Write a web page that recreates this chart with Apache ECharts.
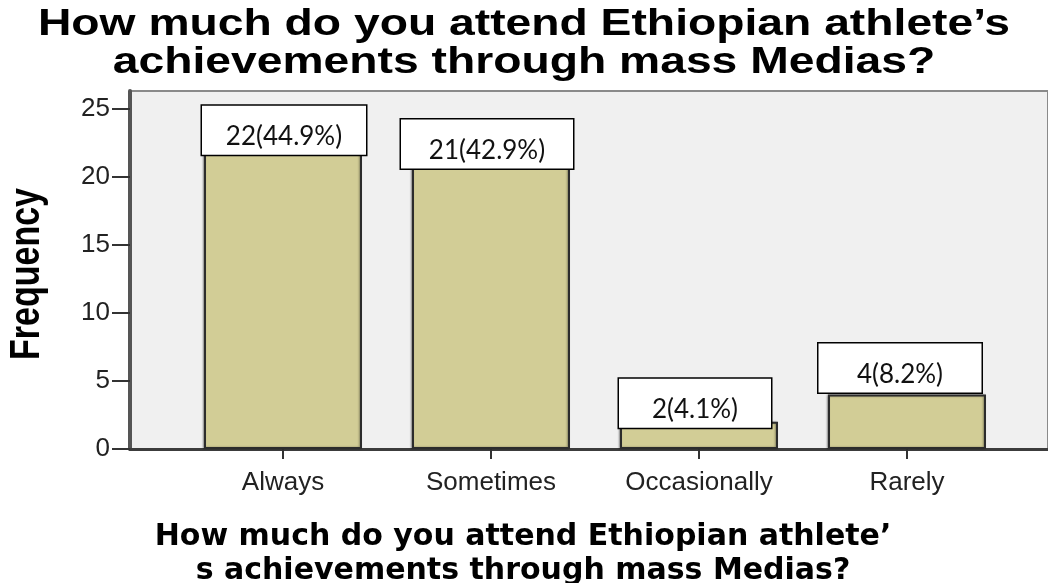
<!DOCTYPE html>
<html>
<head>
<meta charset="utf-8">
<script src="https://cdn.jsdelivr.net/npm/echarts@6/dist/echarts.min.js"></script>
<style>
  html, body { margin: 0; padding: 0; background: #fff; }
  #chart { width: 1048px; height: 583px; }
</style>
</head>
<body>
<div id="chart"></div>
<script>
// Survey answers and their counts
const categories = ['Always', 'Sometimes', 'Occasionally', 'Rarely'];
const frequencies = [22, 21, 2, 4];
const percents = [44.9, 42.9, 4.1, 8.2];
const yTicks = [0, 5, 10, 15, 20, 25];

const titleLines = ['How much do you attend Ethiopian athlete\u2019s', 'achievements through mass Medias?'];
const xTitleLines = ['How much do you attend Ethiopian athlete\u2019', 's achievements through mass Medias?'];
const yTitle = 'Frequency';

// Callout box placement for each bar's value label
const calloutStyle = [
  { dx: 1,  boxW: 164, dist: -5 },
  { dx: -4, boxW: 172, dist: -5 },
  { dx: -4, boxW: 152, dist: -6 },
  { dx: -7, boxW: 163, dist: 2 }
];

const chart = echarts.init(document.getElementById('chart'), null, { renderer: 'canvas' });

const barData = frequencies.map((v, i) => ({
  value: v,
  label: {
    show: true,
    position: 'top',
    distance: calloutStyle[i].dist,
    offset: [calloutStyle[i].dx, 0],
    formatter: v + '(' + percents[i].toFixed(1) + '%)',
    width: calloutStyle[i].boxW - 4,
    padding: [17, 2, 4, 2],
    lineHeight: 28,
    fontFamily: 'Lato',
    fontSize: 26,
    color: '#111',
    backgroundColor: '#ffffff',
    borderColor: '#000',
    borderWidth: 1.5
  }
}));

const option = {
  backgroundColor: '#ffffff',
  animation: false,
  grid: [
    { left: 130, top: 91, right: -20, bottom: 134, show: true,
      backgroundColor: '#f0f0f0', borderColor: '#8a8a8a', borderWidth: 2 },
    { left: 179, top: 109, right: 37, bottom: 134 }
  ],
  xAxis: [
    { gridIndex: 0, type: 'value', min: 0, max: 1,
      axisLine: { show: true, lineStyle: { color: '#3c3c3c', width: 3 } },
      axisTick: { show: false }, axisLabel: { show: false }, splitLine: { show: false } },
    { gridIndex: 1, type: 'category', data: categories,
      axisLine: { show: false },
      axisTick: { show: true, alignWithLabel: true, length: 10, lineStyle: { color: '#333', width: 2 } },
      axisLabel: { fontFamily: 'Liberation Sans', fontSize: 26, color: '#222', margin: 21 },
      splitLine: { show: false } }
  ],
  yAxis: [
    { gridIndex: 0, type: 'value', min: 0, max: 1,
      axisLine: { show: true, lineStyle: { color: '#555', width: 4 } },
      axisTick: { show: false }, axisLabel: { show: false }, splitLine: { show: false } },
    { gridIndex: 1, type: 'value', min: yTicks[0], max: yTicks[yTicks.length - 1], interval: 5,
      offset: 49,
      axisLine: { show: false },
      axisTick: { show: true, length: 18, lineStyle: { color: '#333', width: 2 } },
      axisLabel: { fontFamily: 'Liberation Sans', fontSize: 26, color: '#222', margin: 20 },
      splitLine: { show: false } }
  ],
  series: [
    {
      type: 'bar',
      xAxisIndex: 1,
      yAxisIndex: 1,
      barWidth: 158,
      data: barData,
      itemStyle: {
        color: '#d2cd96',
        borderColor: '#2c2c2c',
        borderWidth: 2,
        shadowColor: 'rgba(0,0,0,0.35)',
        shadowBlur: 2,
        shadowOffsetX: -1
      }
    }
  ],
  graphic: [
    { type: 'text', left: 'center', top: 6, scaleX: 1.25, originX: 0, z: 10,
      style: { text: titleLines.join('\n'), font: 'bold 37px "Liberation Sans"', fill: '#000',
               textAlign: 'center', lineHeight: 38 } },
    { type: 'text', x: 27, y: 274, rotation: Math.PI / 2, scaleY: 1.25, z: 10,
      style: { text: yTitle, font: 'bold 34px "Liberation Sans"', fill: '#000',
               textAlign: 'center', textVerticalAlign: 'middle' } },
    { type: 'text', x: 523, y: 520, z: 10,
      style: { text: xTitleLines.join('\n'), font: 'bold 30px "DejaVu Sans"', fill: '#000',
               textAlign: 'center', lineHeight: 34 } }
  ]
};

chart.setOption(option);
</script>
</body>
</html>
